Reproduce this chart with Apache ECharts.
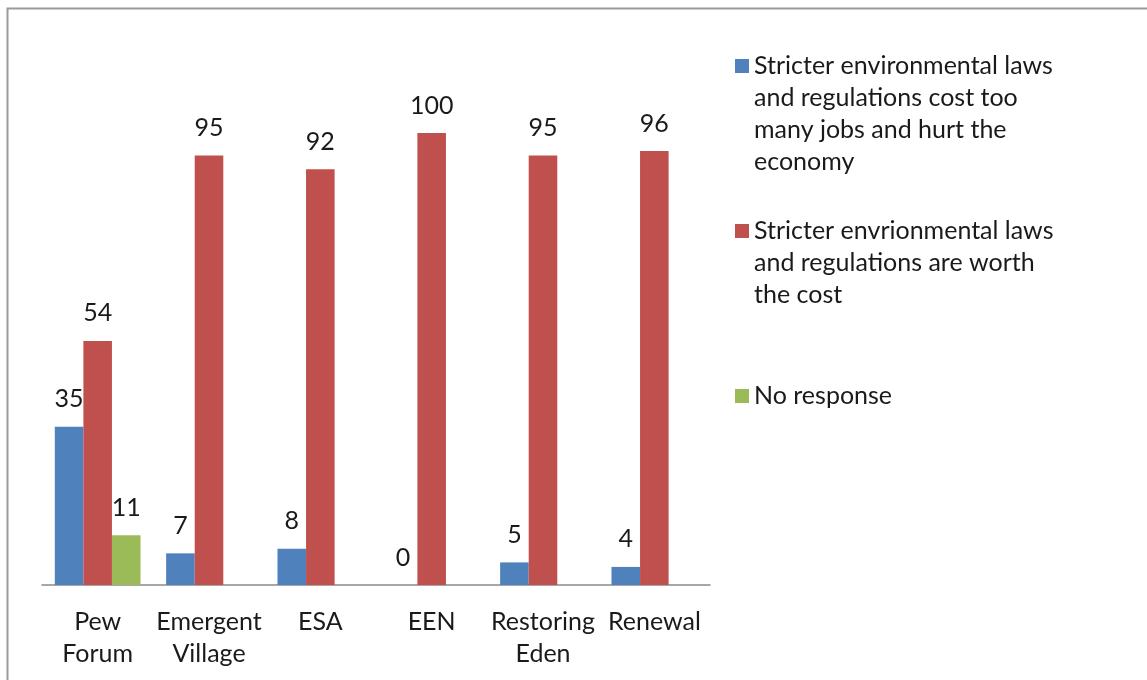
<!DOCTYPE html>
<html><head><meta charset="utf-8">
<script src="https://cdn.jsdelivr.net/npm/echarts@6/dist/echarts.min.js"></script>
<style>html,body{margin:0;padding:0;background:#fff}#c{width:1147px;height:680px}</style>
</head><body><div id="c"></div>
<script>
const categories = ['Pew\nForum', 'Emergent\nVillage', 'ESA', 'EEN', 'Restoring\nEden', 'Renewal'];
const seriesNames = [
  'Stricter environmental laws\nand regulations cost too\nmany jobs and hurt the\neconomy',
  'Stricter envrionmental laws\nand regulations are worth\nthe cost',
  'No response'
];
const costTooMuch = [35, 7, 8, 0, 5, 4];
const worthCost = [54, 95, 92, 100, 95, 96];
const noResponse = [11, null, null, null, null, null];
const colors = ['#4F81BD', '#C0504D', '#9BBB59'];

const FONT = 'Lato';
const FS = 25;
const LH = 32;
const chart = echarts.init(document.getElementById('c'));
// legend text centred on the icon: pad with blank lines above so first line sits at icon centre
function legendAt(name, iconCenterY) {
  const n = name.split('\n').length;
  const total = 2 * n - 1;
  return {
    data: [name], left: 735, top: iconCenterY - (total * LH) / 2, orient: 'vertical', padding: 0,
    icon: 'rect', itemWidth: 14, itemHeight: 14, itemGap: 0, selectedMode: false,
    formatter: (nm) => '\n'.repeat(n - 1) + nm,
    textStyle: { fontFamily: FONT, fontSize: FS, color: '#1a1a1a', lineHeight: LH }
  };
}
const vals = [costTooMuch, worthCost, noResponse];
chart.setOption({
  animation: false,
  textStyle: { fontFamily: FONT },
  graphic: [{ type: 'rect', shape: { x: 7.5, y: 8.5, width: 1300, height: 800 },
    style: { fill: 'none', stroke: '#9a9a9a', lineWidth: 2 }, silent: true }],
  legend: [legendAt(seriesNames[0], 66), legendAt(seriesNames[1], 231), legendAt(seriesNames[2], 396)],
  grid: { left: 42, right: 437, top: 133, bottom: 95, containLabel: false },
  xAxis: {
    type: 'category', data: categories,
    axisLine: { lineStyle: { color: '#8a8a8a', width: 1.5 } },
    axisTick: { show: false },
    axisLabel: { fontFamily: FONT, fontSize: FS, color: '#1a1a1a', lineHeight: LH, margin: 21, interval: 0 }
  },
  yAxis: { type: 'value', min: 0, max: 100, show: false, splitLine: { show: false } },
  series: seriesNames.map((n, i) => ({
    name: n, type: 'bar', data: vals[i], barGap: '0%', barCategoryGap: '23%',
    itemStyle: { color: colors[i] },
    label: { show: true, position: 'top', distance: 15, fontFamily: FONT, fontSize: FS, color: '#1a1a1a' }
  }))
});
</script></body></html>
